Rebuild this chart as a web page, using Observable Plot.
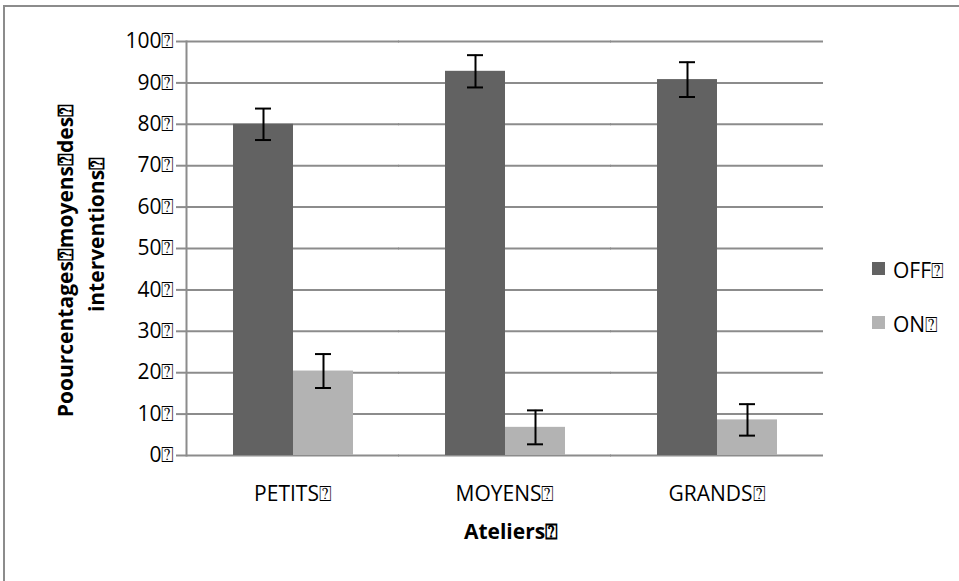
<!DOCTYPE html>
<html><head><meta charset="utf-8">
<script src="https://cdn.jsdelivr.net/npm/d3@7"></script>
<script src="https://cdn.jsdelivr.net/npm/@observablehq/plot@0.6"></script>
<style>
body{margin:0;background:#fff;}
#wrap{position:relative;width:959px;height:581px;overflow:hidden;background:#fff;font-family:"Open Sans",sans-serif;}
#border{position:absolute;left:3px;top:5px;width:2000px;height:2000px;border-left:2px solid #8c8c8c;border-top:2px solid #8c8c8c;}
#chart{position:absolute;left:0;top:0;}
.sw{position:absolute;left:872px;width:13px;height:13px;}
.lt{position:absolute;left:893px;font-size:21px;line-height:21px;color:#000;white-space:nowrap;}
</style></head><body>
<div id="wrap"><div id="border"></div><div id="chart"></div></div>
<script>
const Q = "\u2370"; // missing-glyph box shown after every label in the reference
const categories = ["PETITS", "MOYENS", "GRANDS"];
const series = ["OFF", "ON"];
const offValues = [80.0, 92.8, 90.8];
const offErrors = [3.8, 3.9, 4.2];
const onValues = [20.4, 6.8, 8.6];
const onErrors = [4.1, 4.1, 3.8];
const yTicks = [0, 10, 20, 30, 40, 50, 60, 70, 80, 90, 100];
const seriesColors = ["#626262", "#b3b3b3"];
const xTitle = "Ateliers" + Q;
const yTitleLine1 = "Poourcentages" + Q + "moyens" + Q + "des" + Q;
const yTitleLine2 = "interventions" + Q;

const rows = [];
categories.forEach((c, i) => {
  rows.push({cat: c, series: "OFF", value: offValues[i], err: offErrors[i]});
  rows.push({cat: c, series: "ON", value: onValues[i], err: onErrors[i]});
});

const gray = "#8c8c8c";
const outer = 46; // pixel gap between the value axis and the first group
const chart = Plot.plot({
  width: 959, height: 581,
  marginLeft: 186, marginRight: 136, marginTop: 41, marginBottom: 126,
  style: {fontFamily: '"Open Sans", sans-serif', fontSize: "21px", color: "#000", background: "transparent", overflow: "visible"},
  fx: {domain: categories, paddingInner: 0.43, paddingOuter: 0.215, label: null, axis: null},
  x: {domain: series, padding: 0, axis: null},
  y: {domain: [0, 100], axis: null},
  color: {domain: series, range: seriesColors},
  marks: [
    Plot.ruleY(yTicks, {stroke: gray, strokeWidth: 2, insetLeft: -outer, insetRight: -outer}),
    Plot.barY(rows, {fx: "cat", x: "series", y: "value", fill: "series"}),
    Plot.ruleX(rows, {fx: "cat", x: "series", y1: d => d.value - d.err, y2: d => d.value + d.err, stroke: "#000", strokeWidth: 2}),
    Plot.tickY(rows, {fx: "cat", x: "series", y: d => d.value - d.err, stroke: "#000", strokeWidth: 2, insetLeft: 22, insetRight: 22}),
    Plot.tickY(rows, {fx: "cat", x: "series", y: d => d.value + d.err, stroke: "#000", strokeWidth: 2, insetLeft: 22, insetRight: 22}),
    Plot.axisFx({anchor: "bottom", tickSize: 0, tickPadding: 31, tickFormat: d => d + Q, label: null, fill: "#000"}),
    Plot.axisY({ticks: yTicks, tickSize: 10, tickPadding: 2, tickFormat: d => d + Q, stroke: gray, strokeWidth: 2, fill: "#000", label: null, dx: -outer}),
    Plot.frame({anchor: "left", stroke: gray, strokeWidth: 2, facet: "super", dx: -outer}),
    Plot.text([xTitle], {frameAnchor: "bottom", dy: 69, dx: 6, lineAnchor: "top", fontWeight: "bold", fill: "#000", facet: "super"}),
    Plot.text([yTitleLine1], {frameAnchor: "left", textAnchor: "middle", dx: -166, dy: 12, rotate: -90, fontWeight: "bold", fill: "#000", facet: "super"}),
    Plot.text([yTitleLine2], {frameAnchor: "left", textAnchor: "middle", dx: -135, dy: -14, rotate: -90, fontWeight: "bold", fill: "#000", facet: "super"})
  ]
});
document.getElementById("chart").appendChild(chart);

// legend
const wrap = document.getElementById("wrap");
const legTops = [262, 316];
series.forEach((s, i) => {
  const sw = document.createElement("div");
  sw.className = "sw";
  sw.style.top = legTops[i] + "px";
  sw.style.background = seriesColors[i];
  wrap.appendChild(sw);
  const t = document.createElement("div");
  t.className = "lt";
  t.style.top = (legTops[i] - 2) + "px";
  t.textContent = s + Q;
  wrap.appendChild(t);
});
</script>
</body></html>
